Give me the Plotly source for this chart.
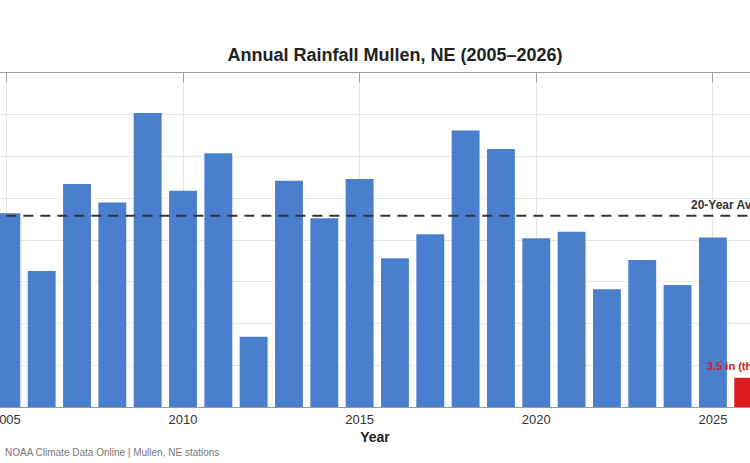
import plotly.graph_objects as go

years = list(range(2005, 2027))
rainfall = [23.2, 16.3, 26.7, 24.5, 35.2, 25.9, 30.4, 8.4, 27.1, 22.6, 27.3,
            17.8, 20.7, 33.1, 30.9, 20.2, 21.0, 14.1, 17.6, 14.6, 20.3, 3.5]
partial_label = "3.5 in (thru Mar)"
title_text = "Annual Rainfall Mullen, NE (2005–2026)"
caption = "NOAA Climate Data Online | Mullen, NE stations"

avg20 = round(sum(rainfall[:20]) / 20, 1)
colors = ["#4a7fcd"] * (len(years) - 1) + ["#dc1b1f"]

FONT = "Liberation Sans, Arial, Helvetica, sans-serif"

fig = go.Figure()
fig.add_trace(go.Bar(x=years, y=rainfall, marker_color=colors,
                     marker_line_width=0, showlegend=False))
fig.add_trace(go.Scatter(x=[years[0]], y=[0], xaxis="x2", mode="markers",
                         marker_opacity=0, hoverinfo="skip", showlegend=False))

fig.add_shape(type="line", xref="x", yref="y", x0=years[0], x1=years[-1] + 0.4,
              y0=avg20, y1=avg20, line=dict(color="#333333", width=2, dash="10px,7px"))

fig.add_annotation(x=2024.32, y=avg20, xref="x", yref="y",
                   text=f"<b>20-Year Avg: {avg20} in</b>", showarrow=False,
                   xanchor="left", yanchor="bottom", yshift=2,
                   font=dict(family=FONT, size=12, color="#333333"))
fig.add_annotation(x=years[-1], y=rainfall[-1], xref="x", yref="y",
                   text=f"<b>{partial_label}</b>", showarrow=False,
                   xanchor="center", yanchor="bottom", yshift=4,
                   font=dict(family=FONT, size=11, color="#d62024"))
fig.add_annotation(x=0.004, y=-0.1377, xref="paper", yref="paper",
                   text=caption, showarrow=False, xanchor="left", yanchor="middle",
                   font=dict(family=FONT, size=10, color="#777777"))

xr = [2004.82, 2026.05]
fig.update_layout(
    width=750, height=463,
    margin=dict(l=0, r=0, t=73, b=56, autoexpand=False),
    paper_bgcolor="white", plot_bgcolor="white",
    bargap=0.21,
    title=dict(text=f"<b>{title_text}</b>", x=395 / 750, xref="container",
               xanchor="center", y=1 - 55 / 463, yref="container", yanchor="middle",
               font=dict(family=FONT, size=18, color="#222222")),
    xaxis=dict(range=xr, tick0=2005, dtick=5, showgrid=True, gridcolor="#e6e6e6",
               showline=True, linecolor="#9a9a9a", linewidth=1, ticks="",
               ticklabeloverflow="allow", automargin=False,
               tickfont=dict(family=FONT, size=13, color="#333333"),
               title=dict(text="<b>Year</b>", standoff=6,
                          font=dict(family=FONT, size=14, color="#222222")),
               zeroline=False),
    xaxis2=dict(overlaying="x", side="top", range=xr, tick0=2005, dtick=5,
                showline=True, linecolor="#a0a0a0", linewidth=1.2, ticks="inside",
                ticklen=9, tickcolor="#a0a0a0", showticklabels=False, showgrid=False,
                zeroline=False, automargin=False),
    yaxis=dict(range=[0, 40], dtick=5, showgrid=True, gridcolor="#e6e6e6",
               showticklabels=False, zeroline=False, ticks="", automargin=False),
)

fig.write_html("out.html")
